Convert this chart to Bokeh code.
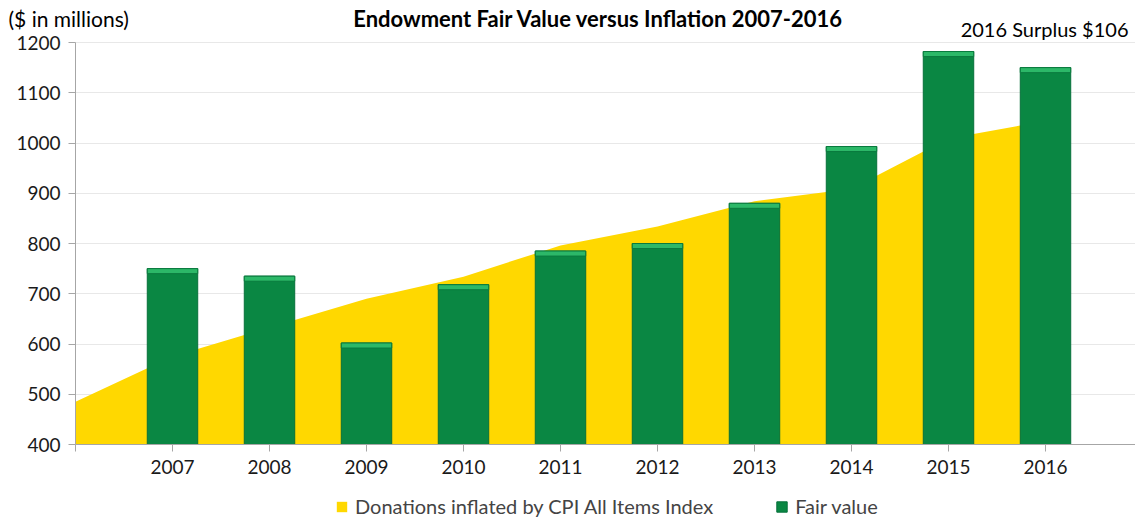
from bokeh.plotting import figure
from bokeh.models import (Range1d, FixedTicker, Label, Legend, LegendItem,
                          ColumnDataSource, LinearAxis, Grid)
from bokeh.embed import file_html
from bokeh.resources import INLINE

# ---- data ----
years = ["2007", "2008", "2009", "2010", "2011", "2012", "2013", "2014", "2015", "2016"]
fair_value = [750, 735, 602, 718, 785, 800, 880, 993, 1182, 1150]
# donations inflated by CPI; first point is the unlabeled start of the axis
donation_positions = [0, 1, 2, 3, 4, 5, 6, 7, 8, 9, 10]
donations_inflated = [485, 575, 633, 690, 734, 796, 834, 884, 909, 1009, 1044]
y_ticks = [400, 500, 600, 700, 800, 900, 1000, 1100, 1200]

FONT = "Lato"
GREEN = "#0A8743"
YELLOW = "#FFD800"

# ---- layout geometry (pixels) ----
W, H = 1135, 521
AX_LEFT, AX_TOP, AX_BOTTOM = 75, 42, 444
PX_PER_CAT = 97
Y0, Y1 = y_ticks[0], y_ticks[-1]
px_per_unit = (AX_BOTTOM - AX_TOP) / (Y1 - Y0)
x_start = -AX_LEFT / PX_PER_CAT
x_end = (W - AX_LEFT) / PX_PER_CAT
y_start = Y0 - (H - AX_BOTTOM) / px_per_unit
y_end = Y1 + AX_TOP / px_per_unit

bar_x = list(range(1, len(years) + 1))
bar_src = ColumnDataSource(dict(x=bar_x, top=fair_value,
                                hl_bottom=[v - 10 for v in fair_value]))
area_src = ColumnDataSource(dict(x=donation_positions, y=donations_inflated,
                                 base=[Y0] * len(donation_positions)))

p = figure(width=W, height=H, output_backend="svg", toolbar_location=None,
           x_range=Range1d(x_start, x_end), y_range=Range1d(y_start, y_end),
           x_axis_location=None, y_axis_location=None,
           min_border=0, min_border_left=0, min_border_right=0,
           min_border_top=0, min_border_bottom=0)
p.outline_line_color = None
p.background_fill_color = "white"
p.xgrid.visible = False
p.ygrid.visible = False

# grid
grid = Grid(dimension=1, ticker=FixedTicker(ticks=y_ticks),
            grid_line_color="#E8E8E8", grid_line_width=1)
grid.cross_bounds = (0, x_end)
p.add_layout(grid, "center")

area = p.varea(x="x", y1="base", y2="y", source=area_src, fill_color=YELLOW)
bars = p.vbar(x="x", top="top", bottom=Y0, width=0.52, source=bar_src,
              fill_color=GREEN, line_color="#06703A", line_width=1)
p.vbar(x="x", top="top", bottom="hl_bottom", width=0.52, source=bar_src,
       fill_color="#2CB868", line_color="#0A7A3E", line_width=1)

# axes (fixed inside the full-canvas frame)
xaxis = LinearAxis(fixed_location=Y0, bounds=(0, x_end),
                   ticker=FixedTicker(ticks=[0] + bar_x))
xaxis.major_label_overrides = {0: "", **{i: y for i, y in zip(bar_x, years)}}
yaxis = LinearAxis(fixed_location=0, bounds=(Y0, Y1),
                   ticker=FixedTicker(ticks=y_ticks))
for ax in (xaxis, yaxis):
    ax.axis_line_color = "#A6A6A6"
    ax.major_tick_line_color = "#A6A6A6"
    ax.minor_tick_line_color = None
    ax.major_tick_in = 0
    ax.major_tick_out = 7
    ax.major_label_text_font = FONT
    ax.major_label_text_font_size = "19px"
    ax.major_label_text_color = "#1a1a1a"
    ax.major_label_standoff = 8
p.add_layout(xaxis, "below")
p.add_layout(yaxis, "left")

# texts
p.add_layout(Label(x=598, y=H - 18, x_units="screen", y_units="screen",
                   text="Endowment Fair Value versus Inflation 2007-2016",
                   text_font=FONT, text_font_size="22px", text_font_style="bold",
                   text_align="center", text_baseline="middle", text_color="black"))
p.add_layout(Label(x=8, y=H - 18, x_units="screen", y_units="screen",
                   text="($ in millions)", text_font=FONT, text_font_size="21px",
                   text_align="left", text_baseline="middle", text_color="black"))
p.add_layout(Label(x=1128, y=H - 28, x_units="screen", y_units="screen",
                   text="2016 Surplus $106", text_font=FONT, text_font_size="20px",
                   text_align="right", text_baseline="middle", text_color="black"))

legend = Legend(items=[LegendItem(label="Donations inflated by CPI All Items Index", renderers=[area]),
                       LegendItem(label="Fair value", renderers=[bars])],
                orientation="horizontal", location=(335, 3),
                label_text_font=FONT, label_text_font_size="20px",
                glyph_width=13, glyph_height=13, label_height=20, label_standoff=7,
                spacing=62, padding=0, margin=0,
                border_line_color=None, background_fill_alpha=0)
p.add_layout(legend, "center")

open("out.html", "w").write(file_html(p, INLINE))
